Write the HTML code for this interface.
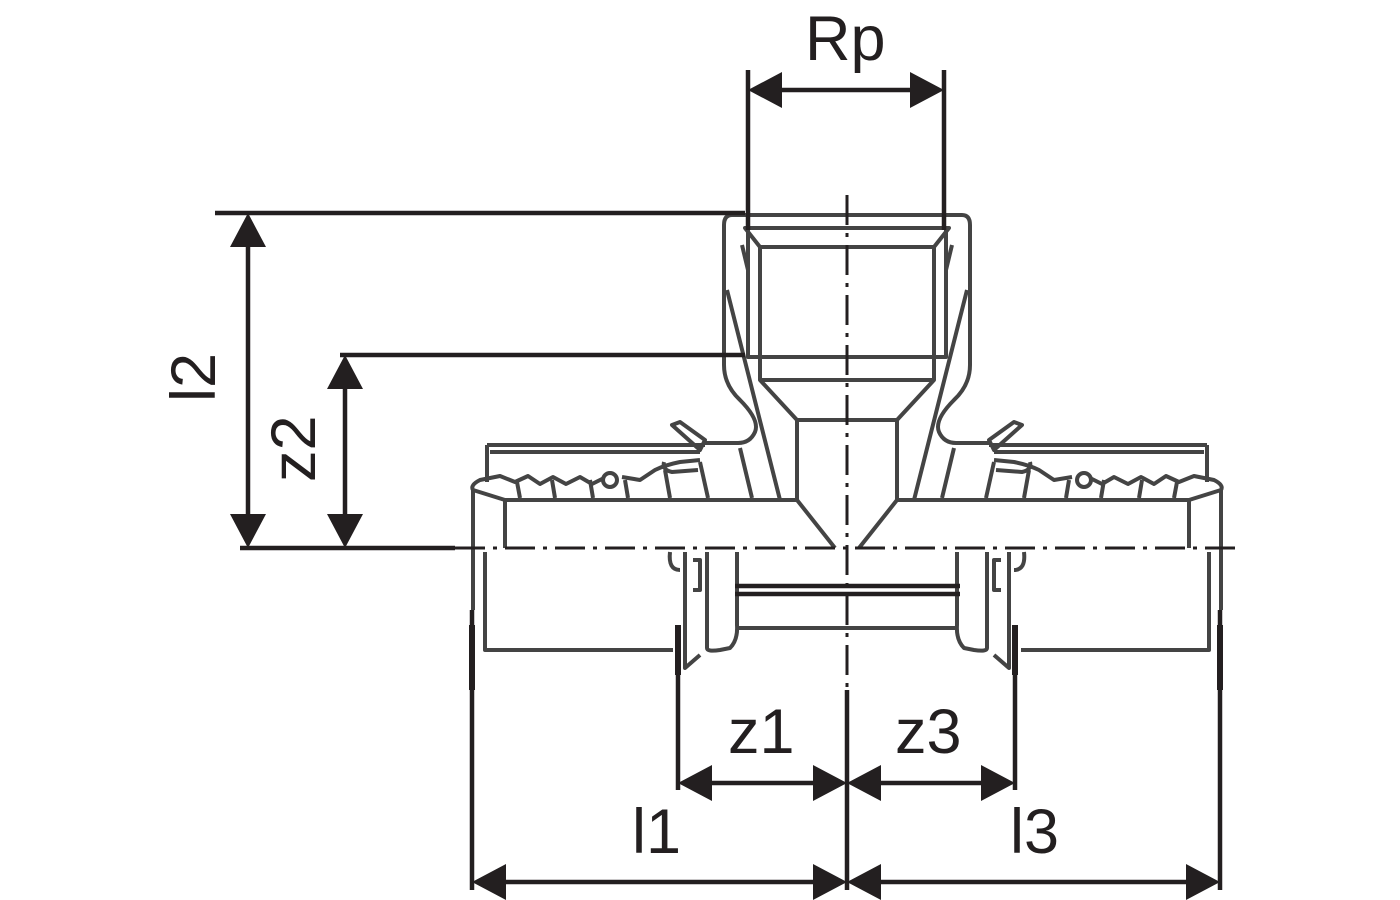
<!DOCTYPE html>
<html><head><meta charset="utf-8"><style>
html,body{margin:0;padding:0;background:#fff;width:1400px;height:900px;overflow:hidden}
svg{display:block}
text{font-family:"Liberation Sans",sans-serif;font-size:63px;fill:#231f20}
</style></head><body>
<svg width="1400" height="900" viewBox="0 0 1400 900" xmlns="http://www.w3.org/2000/svg">
<defs>
<g id="half" fill="none" stroke="#444" stroke-width="4" stroke-linejoin="round">
  <path d="M847 215 H732 Q724 215 724 225 V365 Q724 385 740 400 Q760 420 755 432 Q750 443 738 443 H705"/>
  <path d="M847 228 H745 L760 247 V380 L797 420 V500"/>
  <path d="M760 247 H847 M760 380 H847 M797 420 H847"/>
  <path d="M748 228 V357 H847"/>
  <path d="M727 290 L780 500 M742 245 L748 270"/>
  <path d="M487 445 H705 M490 452 H700"/>
  <path d="M487 445 V482"/>
  <path d="M505 500 H797 L835 548"/>
  <path d="M505 500 V548 M473 490 L505 500"/>
  <path d="M473 490 Q470 485 480 480 L500 476 L515 482 L528 476 L540 484 L553 477 L566 484 L580 477 L592 484 L604 478 M622 477 L640 480 L655 470 Q665 465 680 462 L700 460"/>
  <circle cx="610" cy="480" r="7"/>
  <path d="M517 482 L520 498 M552 480 L555 498 M590 480 L593 498 M625 480 L628 498 M665 470 L670 498 M700 462 L708 498 M740 448 L752 498"/>
  <path d="M672 425 L700 450 L705 440 L680 422 Z"/>
  <path d="M664 462 Q662 470 672 472 L698 470"/>
  <path d="M473 490 V610"/>
  <path d="M485 552 V650 H673"/>
  <path d="M685 552 V668 L700 655 M693 560 H700 V590 H693"/>
  <path d="M707 552 V648 Q707 652 720 650 L730 648 Q738 640 737 625 V552"/>
  <path d="M737 628 H847"/>
  <path d="M670 552 Q668 570 680 570"/>
</g>
</defs>
<use href="#half"/>
<use href="#half" transform="translate(1694,0) scale(-1,1)"/>
<g stroke="#231f20" stroke-width="4.5" fill="none">
  <path d="M735 586 H960 M735 594 H960"/>
  <path d="M748 70 V230 M944 70 V230"/>
  <path d="M215 213 H745 M340 355 H745"/>
  <path d="M240 548 H455"/>
  <path d="M248 245 V518 M345 387 V518"/>
  <path d="M472 610 V890 M1220 610 V890 M678 625 V790 M1015 625 V790"/>
  <path d="M847 690 V890"/>
  <path d="M780 90 H912"/>
  <path d="M710 783 H815 M879 783 H983 M504 882 H815 M879 882 H1188"/>
</g>
<g stroke="#231f20" stroke-width="6" fill="none">
  <path d="M472 625 V690 M1220 625 V690 M678 625 V675 M1015 625 V675"/>
</g>
<g stroke="#231f20" stroke-width="3" fill="none" stroke-dasharray="30,8,4,8">
  <path d="M455 548 H1240"/>
  <path d="M847 195 V690"/>
</g>
<g fill="#231f20">
  <path d="M748 90 L782 72 V108 Z M944 90 L910 72 V108 Z"/>
  <path d="M248 213 L230 247 H266 Z M248 548 L230 514 H266 Z"/>
  <path d="M345 355 L327 389 H363 Z M345 548 L327 514 H363 Z"/>
  <path d="M678 783 L712 765 V801 Z M847 783 L813 765 V801 Z M847 783 L881 765 V801 Z M1015 783 L981 765 V801 Z"/>
  <path d="M472 882 L506 864 V900 Z M847 882 L813 864 V900 Z M847 882 L881 864 V900 Z M1220 882 L1186 864 V900 Z"/>
</g>
<text x="805" y="60">Rp</text>
<text x="728" y="753">z1</text>
<text x="895" y="753">z3</text>
<text x="632" y="853">l1</text>
<text x="1010" y="853">l3</text>
<text transform="translate(215,402) rotate(-90)">l2</text>
<text transform="translate(315,482) rotate(-90)">z2</text>
</svg>
</body></html>
